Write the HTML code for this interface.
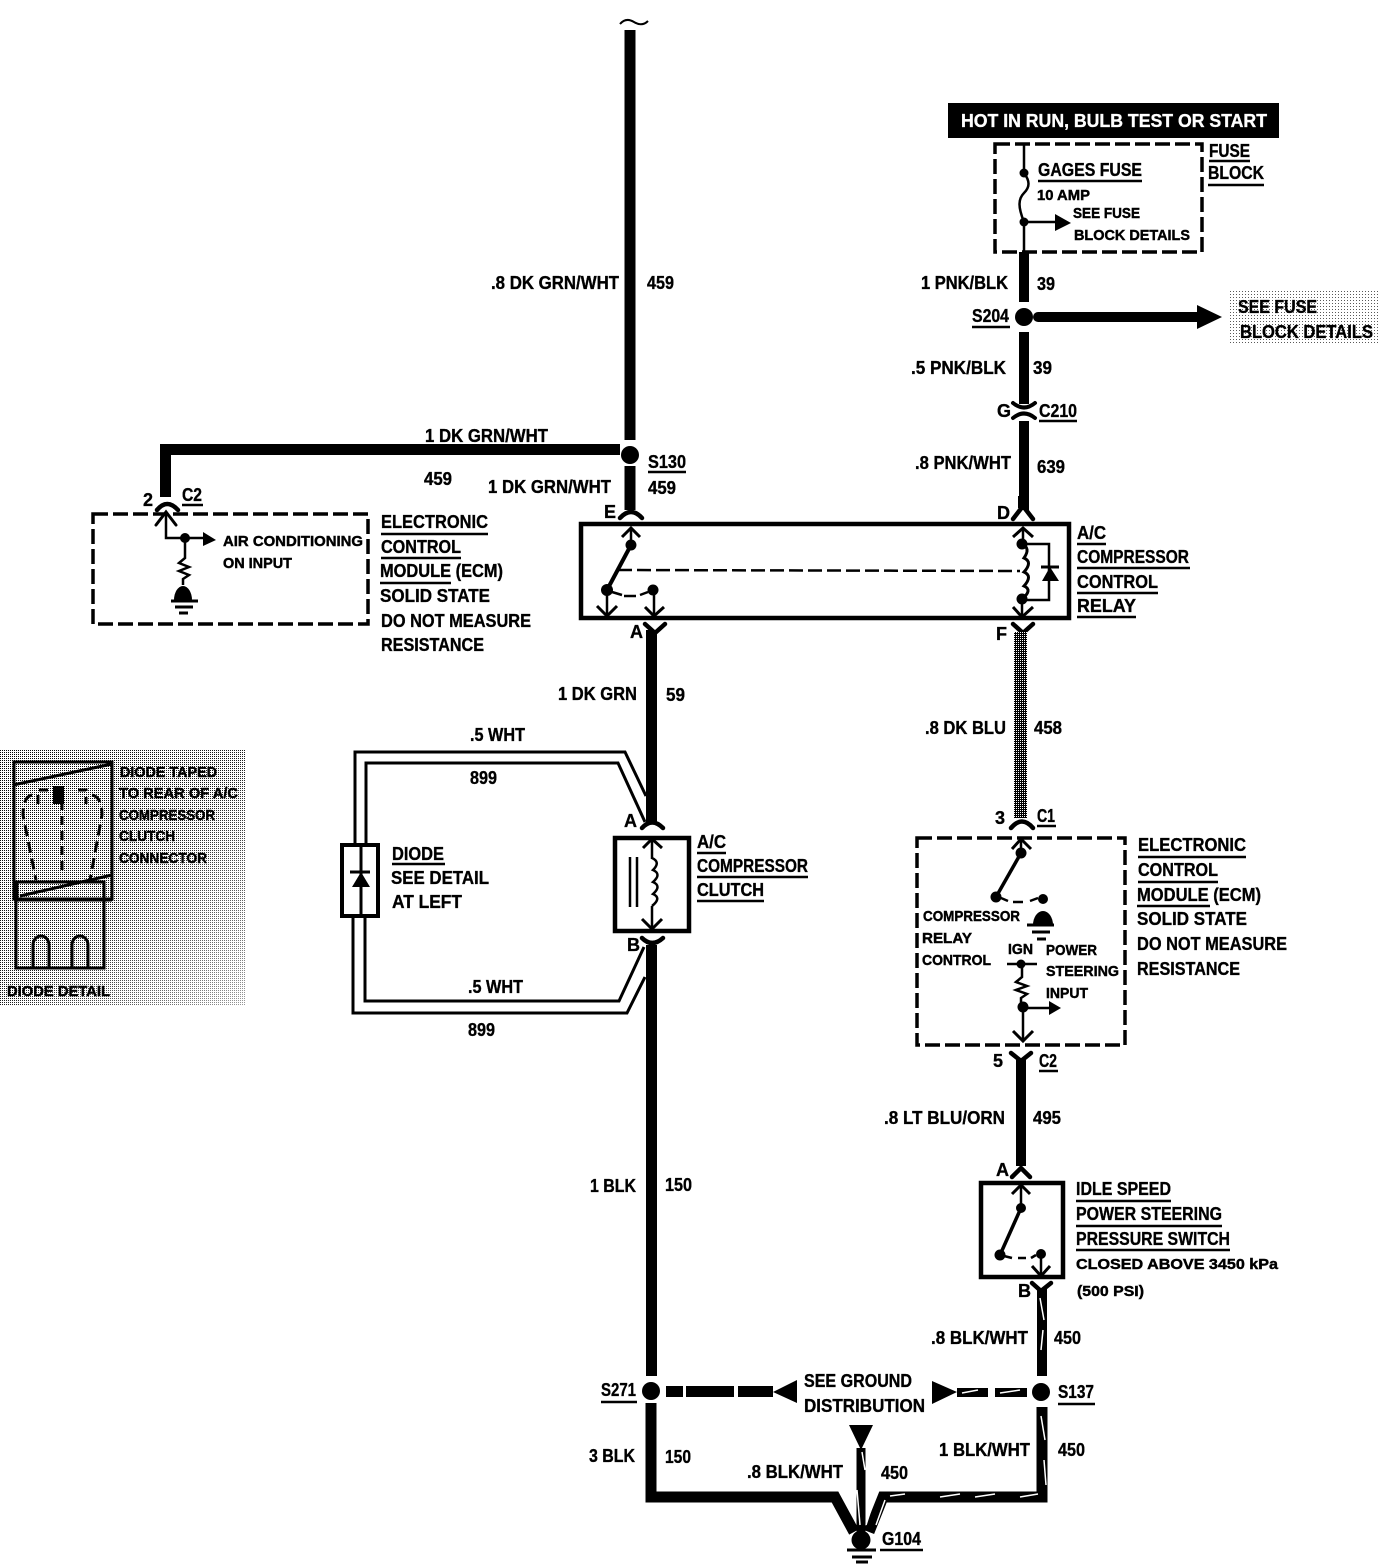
<!DOCTYPE html>
<html><head><meta charset="utf-8"><title>A/C compressor wiring diagram</title>
<style>
html,body{margin:0;padding:0;background:#fff}
svg{display:block}
text{font-family:"Liberation Sans",sans-serif;font-weight:bold;font-size:18px;fill:#000;stroke:#000;stroke-width:.35px}
text.s{font-size:15px;stroke-width:.45px}
.w{fill:none;stroke:#000;stroke-width:11}
.l{fill:none;stroke:#000;stroke-width:2.5}
.c{fill:none;stroke:#000;stroke-width:4.5;stroke-linecap:round}
.d{fill:none;stroke:#000;stroke-width:3.5;stroke-dasharray:15 5}
.b{fill:none;stroke:#000;stroke-width:4.5}
.u{fill:none;stroke:#000;stroke-width:2.5}
.st{fill:none;stroke:#fff;stroke-width:1.5}
</style></head><body>
<svg width="1378" height="1568" viewBox="0 0 1378 1568" xmlns="http://www.w3.org/2000/svg">
<defs>
<pattern id="dith" width="2" height="2" patternUnits="userSpaceOnUse"><rect width="2" height="2" fill="#fff"/><rect width="1" height="1" fill="#000"/></pattern>
<pattern id="wire" width="2" height="2" patternUnits="userSpaceOnUse"><rect width="2" height="2" fill="#000"/><rect width="1" height="1" fill="#fff"/></pattern>
<pattern id="lite" width="3" height="3" patternUnits="userSpaceOnUse"><rect width="3" height="3" fill="#fff"/><rect width="1" height="1" fill="#000"/></pattern>
<linearGradient id="fade" x1="0" y1="0" x2="1" y2="1"><stop offset="0" stop-color="#fff" stop-opacity="0"/><stop offset="0.5" stop-color="#fff" stop-opacity="0.1"/><stop offset="1" stop-color="#fff" stop-opacity="0.6"/></linearGradient>
</defs>

<!-- dither panels -->
<rect x="0" y="750" width="245" height="255" fill="url(#dith)"/>
<rect x="0" y="750" width="245" height="255" fill="url(#fade)"/>
<rect x="1230" y="290" width="148" height="55" fill="url(#lite)"/>
<rect x="1230" y="290" width="148" height="55" fill="#fff" opacity=".35"/>

<!-- top-left main wire -->
<path d="M630 30V440" class="w"/>
<path d="M620 24q6-7 14-2t14-1" class="l" style="stroke-width:2"/>
<circle cx="630" cy="455" r="9"/>
<path d="M630 466V510" class="w"/>
<path d="M620 449.500H165.500V497" class="w"/>

<!-- ECM left -->
<path d="M157 510q10-12 21 0" class="c"/>
<rect x="93" y="514" width="275" height="110" class="d"/>
<path d="M166 512V538H185" class="l"/><path d="M156 525L166 512L176 525" class="c" style="stroke-width:3"/>
<circle cx="185" cy="538" r="5"/><path d="M185 538H205" class="l"/><path d="M203 532L216 540L203 546Z"/>
<path d="M185 540V558l-6 5 10 4-10 4 10 4-6 4V585" class="l"/>
<path d="M174 600a9 14 0 0 1 18 0Z"/>
<path d="M171 601H198M175 607H193M179 613H188" class="l" style="stroke-width:3"/>

<!-- relay -->
<rect x="581" y="524" width="488" height="94" class="b"/>
<path d="M620 518q11-12 22 0" class="c"/>
<path d="M1023 506L1013 519M1023 506L1033 519" class="c"/>
<path d="M1023 496V508" class="w" style="stroke-width:10"/>
<path d="M631 529V545" class="l"/><path d="M622 537L631 528L640 537" class="l" style="stroke-width:3"/>
<circle cx="631" cy="545" r="5.500"/>
<path d="M631 545L607 590" class="l" style="stroke-width:4"/>
<circle cx="607" cy="590" r="6"/>
<path d="M607 590V616" class="l"/><path d="M597 606L607 616L617 606" class="l" style="stroke-width:3"/>
<path d="M612 592L622 595M624 596H636M640 595L648 592" class="l"/>
<circle cx="653" cy="590" r="5.500"/>
<path d="M654 590V616" class="l"/><path d="M645 607L654 616L664 607" class="l" style="stroke-width:3"/>
<path d="M618 570L1020 571" class="l" style="stroke-dasharray:14 5"/>
<path d="M1023 529V544" class="l"/><path d="M1013 537L1023 528L1033 537" class="l" style="stroke-width:3"/>
<circle cx="1022" cy="544" r="5.500"/><circle cx="1022" cy="599" r="5.500"/>
<path d="M1022 544q9 4 2 14q9 4 0 14q9 4 0 14q9 4 -2 13" class="l" style="stroke-width:3"/>
<path d="M1022 599V616" class="l"/><path d="M1013 607L1022 617L1033 607" class="l" style="stroke-width:3"/>
<path d="M1022 544H1049V600H1022" class="l"/>
<path d="M1041 567H1059" class="l" style="stroke-width:3"/><path d="M1050 567L1059 581H1042Z"/>
<path d="M645 624L655 633L665 624" class="c"/>
<path d="M1013 624L1023 633L1033 624" class="c"/>

<!-- wire 59 + clutch -->
<path d="M651.500 630V824" class="w"/>
<path d="M651.500 945V1376" class="w"/>
<path d="M642 828q10-11 21 0" class="c"/>
<path d="M642 938q10 10 21 0" class="c"/>
<rect x="615" y="838" width="74" height="93" class="b"/>
<path d="M652 840V859" class="l"/><path d="M643 848L652 839L662 848" class="l" style="stroke-width:3"/>
<path d="M652 858q9 4 1 12q9 4 0 12q9 4 0 12q9 4 -1 12" class="l"/>
<path d="M652 906V928" class="l"/><path d="M642 919L652 929L662 919" class="l" style="stroke-width:3"/>
<path d="M630 857V907M637 857V907" class="l"/>

<!-- white-wire loop -->
<path d="M355 844V752H625L646 796" class="l" style="stroke-width:3"/>
<path d="M366 844V763H618L645 822" class="l" style="stroke-width:3"/>
<path d="M353 916V1013H627L645 977" class="l" style="stroke-width:3"/>
<path d="M365 916V1001H619L644 947" class="l" style="stroke-width:3"/>
<rect x="342" y="845" width="36" height="71" class="b" style="stroke-width:4"/>
<path d="M361 845V916" class="l" style="stroke-width:3"/>
<path d="M350 872H370" class="l" style="stroke-width:3"/><path d="M361 872L370 887H352Z"/>

<!-- right top -->
<rect x="948" y="103" width="331" height="35" fill="#000"/>
<rect x="995" y="144" width="207" height="108" class="d"/>
<path d="M1024 144V173M1024 222V254" class="l"/>
<circle cx="1024" cy="173" r="4.500"/><circle cx="1024" cy="222" r="4.500"/>
<path d="M1024 173c6 8 6 14 0 20s-6 14 0 29" class="l"/>
<path d="M1024 222H1057" class="l"/><path d="M1055 214L1071 223L1055 231Z"/>
<path d="M1024 252V302" class="w" style="stroke-width:10"/>
<circle cx="1024" cy="317" r="9"/>
<path d="M1024 332V404" class="w" style="stroke-width:10"/>
<path d="M1013 403q11 9 22 0M1013 418q11-9 22 0" class="c" style="stroke-width:4"/>
<path d="M1024 421V510" class="w" style="stroke-width:10"/>
<path d="M1038 317H1199" class="w" style="stroke-linecap:round;stroke-width:10"/>
<path d="M1197 305L1222 317L1197 329Z"/>

<!-- gray wire -->
<rect x="1014" y="632" width="13" height="186" fill="url(#wire)"/>
<path d="M1011 828q11-13 22 0" class="c"/>

<!-- ECM right -->
<rect x="917" y="838" width="208" height="207" class="d"/>
<path d="M1021 840V853" class="l"/><path d="M1012 849L1021 839L1031 849" class="l" style="stroke-width:3"/>
<circle cx="1021" cy="853" r="5.500"/>
<path d="M1021 853L996 897" class="l" style="stroke-width:3.500"/>
<circle cx="996" cy="897" r="5.500"/>
<path d="M1001 898L1008 901M1013 902H1023M1030 901L1038 898" class="l"/>
<circle cx="1043" cy="899" r="5"/>
<path d="M1033 925a10 14 0 0 1 20 0Z"/>
<path d="M1027 925H1054M1032 932H1050M1037 939H1046" class="l" style="stroke-width:3"/>
<path d="M1007 964H1037" class="l"/><circle cx="1021" cy="964" r="4.500"/>
<path d="M1022 966V977l-6 5 11 4-11 4 11 4-6 4V1007" class="l"/>
<circle cx="1023" cy="1007" r="5.500"/>
<path d="M1023 1008H1050" class="l"/><path d="M1049 1001L1061 1008L1049 1015Z"/>
<path d="M1023 1008V1041" class="l"/><path d="M1013 1031L1023 1041L1033 1031" class="l" style="stroke-width:3"/>
<path d="M1011 1053L1021 1061L1031 1053" class="c"/>
<path d="M1021 1060V1166" class="w" style="stroke-width:10"/>

<!-- switch -->
<path d="M1012 1177L1021 1168L1030 1177" class="c"/>
<rect x="981" y="1183" width="82" height="94" class="b"/>
<path d="M1021 1186V1208" class="l"/><path d="M1012 1194L1021 1185L1030 1194" class="l" style="stroke-width:3"/>
<circle cx="1021" cy="1208" r="5"/>
<path d="M1021 1208L1000 1255" class="l" style="stroke-width:3.500"/>
<circle cx="1000" cy="1255" r="5.500"/>
<path d="M1004 1256L1012 1258M1018 1258H1026M1031 1258L1036 1255" class="l"/>
<circle cx="1041" cy="1254" r="5"/>
<path d="M1041 1254V1276" class="l"/><path d="M1032 1266L1041 1276L1050 1266" class="l" style="stroke-width:3"/>
<path d="M1032 1283L1041 1291L1051 1283" class="c"/>
<path d="M1042 1288V1376" class="w" style="stroke-width:10"/>
<path d="M1040 1298L1044 1320M1043 1330L1041 1350" class="st"/>

<!-- bottom -->
<circle cx="651" cy="1391" r="9"/>
<circle cx="1041" cy="1392" r="9"/>
<path d="M651 1403V1497H835L854 1532" class="w"/>
<path d="M1042 1407V1497H883L869 1532" class="w"/>
<path d="M861 1448V1532" class="w" style="stroke-width:9"/>
<path d="M1041 1416L1045 1440M1044 1460L1046 1485M1038 1494L1020 1497M975 1497L995 1494M940 1497L960 1494M890 1496L905 1494M875 1497L866 1525M885 1500L876 1525M862 1452L865 1470M857 1490L860 1525" class="st"/>
<rect x="666" y="1386" width="17" height="11"/>
<rect x="686" y="1386" width="48" height="11"/>
<rect x="738" y="1386" width="35" height="11"/>
<path d="M773 1392L797 1380V1403Z"/>
<path d="M932 1381L957 1392L932 1404Z"/>
<rect x="957" y="1388" width="31" height="9"/>
<rect x="995" y="1388" width="32" height="9"/>
<path d="M962 1393L978 1390M1000 1393L1020 1390" class="st"/>
<path d="M849 1425H873L861 1450Z"/>
<circle cx="861" cy="1540" r="9.500"/>
<path d="M847 1550H876M852 1557H872M856 1562H868" class="l" style="stroke-width:3"/>

<!-- diode detail -->
<g fill="none" stroke="#000" stroke-width="3">
<rect x="14" y="762" width="98" height="137"/>
<path d="M13 785L112 764M20 896L112 875"/>
<path d="M16 899V968H104V882H17V899"/>
<path d="M14 900H112"/>
<path d="M33 968V945a8 9 0 0 1 16 0V968M72 968V945a8 9 0 0 1 16 0V968"/>
<path d="M38 804V790H48M78 790H86V804M62 786V875" stroke-dasharray="9 6"/>
<path d="M32 795Q23 797 23 815L36 880M92 795Q102 797 102 815L90 880" stroke-dasharray="11 6"/>
</g>
<rect x="53" y="786" width="11" height="18"/>

<!-- underlines -->
<path class="u" d="M648 472H686M182 505H203M381 534H488M381 558H461M380 583H451M697 853H726M697 877H808M697 901H764M392 864H445M1077 544H1106M1077 568H1190M1077 593H1158M1077 617H1136M1037 826H1056M1138 857H1246M1138 882H1218M1137 906H1210M1039 1071H1058M1076 1201H1171M1076 1226H1222M1076 1250H1230M601 1402H637M1058 1404H1095M880 1550H923M972 327H1010M1039 421H1077M1038 181H1142M1209 161H1250M1208 185H1264"/>

<!-- labels -->
<text x="491" y="289" textLength="128" lengthAdjust="spacingAndGlyphs">.8 DK GRN/WHT</text>
<text x="647" y="289" textLength="27" lengthAdjust="spacingAndGlyphs">459</text>
<text x="425" y="442" textLength="123" lengthAdjust="spacingAndGlyphs">1 DK GRN/WHT</text>
<text x="424" y="485" textLength="28" lengthAdjust="spacingAndGlyphs">459</text>
<text x="488" y="493" textLength="123" lengthAdjust="spacingAndGlyphs">1 DK GRN/WHT</text>
<text x="648" y="494" textLength="28" lengthAdjust="spacingAndGlyphs">459</text>
<text x="648" y="468" textLength="38" lengthAdjust="spacingAndGlyphs">S130</text>
<text x="143" y="506">2</text>
<text x="182" y="501" textLength="20" lengthAdjust="spacingAndGlyphs">C2</text>
<text x="381" y="528" textLength="107" lengthAdjust="spacingAndGlyphs">ELECTRONIC</text>
<text x="381" y="553" textLength="80" lengthAdjust="spacingAndGlyphs">CONTROL</text>
<text x="380" y="577" textLength="123" lengthAdjust="spacingAndGlyphs">MODULE (ECM)</text>
<text x="380" y="602" textLength="110" lengthAdjust="spacingAndGlyphs">SOLID STATE</text>
<text x="381" y="627" textLength="150" lengthAdjust="spacingAndGlyphs">DO NOT MEASURE</text>
<text x="381" y="651" textLength="103" lengthAdjust="spacingAndGlyphs">RESISTANCE</text>
<text class="s" x="223" y="546" textLength="140" lengthAdjust="spacingAndGlyphs">AIR CONDITIONING</text>
<text class="s" x="223" y="568" textLength="69" lengthAdjust="spacingAndGlyphs">ON INPUT</text>

<text x="604" y="518">E</text>
<text x="997" y="519">D</text>
<text x="630" y="638">A</text>
<text x="996" y="640">F</text>
<text x="1077" y="539" textLength="29" lengthAdjust="spacingAndGlyphs">A/C</text>
<text x="1077" y="563" textLength="112" lengthAdjust="spacingAndGlyphs">COMPRESSOR</text>
<text x="1077" y="588" textLength="81" lengthAdjust="spacingAndGlyphs">CONTROL</text>
<text x="1077" y="612" textLength="59" lengthAdjust="spacingAndGlyphs">RELAY</text>

<text x="558" y="700" textLength="79" lengthAdjust="spacingAndGlyphs">1 DK GRN</text>
<text x="666" y="701" textLength="19" lengthAdjust="spacingAndGlyphs">59</text>
<text x="470" y="741" textLength="55" lengthAdjust="spacingAndGlyphs">.5 WHT</text>
<text x="470" y="784" textLength="27" lengthAdjust="spacingAndGlyphs">899</text>
<text x="468" y="993" textLength="55" lengthAdjust="spacingAndGlyphs">.5 WHT</text>
<text x="468" y="1036" textLength="27" lengthAdjust="spacingAndGlyphs">899</text>
<text x="624" y="827">A</text>
<text x="627" y="951">B</text>
<text x="697" y="848" textLength="29" lengthAdjust="spacingAndGlyphs">A/C</text>
<text x="697" y="872" textLength="111" lengthAdjust="spacingAndGlyphs">COMPRESSOR</text>
<text x="697" y="896" textLength="67" lengthAdjust="spacingAndGlyphs">CLUTCH</text>
<text x="392" y="860" textLength="52" lengthAdjust="spacingAndGlyphs">DIODE</text>
<text x="391" y="884" textLength="98" lengthAdjust="spacingAndGlyphs">SEE DETAIL</text>
<text x="392" y="908" textLength="70" lengthAdjust="spacingAndGlyphs">AT LEFT</text>

<text class="s" x="120" y="777" textLength="97" lengthAdjust="spacingAndGlyphs">DIODE TAPED</text>
<text class="s" x="119" y="798" textLength="119" lengthAdjust="spacingAndGlyphs">TO REAR OF A/C</text>
<text class="s" x="119" y="820" textLength="96" lengthAdjust="spacingAndGlyphs">COMPRESSOR</text>
<text class="s" x="119" y="841" textLength="56" lengthAdjust="spacingAndGlyphs">CLUTCH</text>
<text class="s" x="119" y="863" textLength="88" lengthAdjust="spacingAndGlyphs">CONNECTOR</text>
<text class="s" x="7" y="996" textLength="103" lengthAdjust="spacingAndGlyphs">DIODE DETAIL</text>

<text x="961" y="127" textLength="306" lengthAdjust="spacingAndGlyphs" style="fill:#fff;stroke:#fff">HOT IN RUN, BULB TEST OR START</text>
<text x="1038" y="176" textLength="104" lengthAdjust="spacingAndGlyphs">GAGES FUSE</text>
<text class="s" x="1037" y="200" textLength="53" lengthAdjust="spacingAndGlyphs">10 AMP</text>
<text class="s" x="1073" y="218" textLength="67" lengthAdjust="spacingAndGlyphs">SEE FUSE</text>
<text class="s" x="1074" y="240" textLength="116" lengthAdjust="spacingAndGlyphs">BLOCK DETAILS</text>
<text x="1209" y="157" textLength="41" lengthAdjust="spacingAndGlyphs">FUSE</text>
<text x="1208" y="179" textLength="56" lengthAdjust="spacingAndGlyphs">BLOCK</text>
<text x="1238" y="313" textLength="79" lengthAdjust="spacingAndGlyphs">SEE FUSE</text>
<text x="1240" y="338" textLength="133" lengthAdjust="spacingAndGlyphs">BLOCK DETAILS</text>
<text x="921" y="289" textLength="87" lengthAdjust="spacingAndGlyphs">1 PNK/BLK</text>
<text x="1037" y="290" textLength="18" lengthAdjust="spacingAndGlyphs">39</text>
<text x="972" y="322" textLength="37" lengthAdjust="spacingAndGlyphs">S204</text>
<text x="911" y="374" textLength="95" lengthAdjust="spacingAndGlyphs">.5 PNK/BLK</text>
<text x="1033" y="374" textLength="19" lengthAdjust="spacingAndGlyphs">39</text>
<text x="997" y="417">G</text>
<text x="1039" y="417" textLength="38" lengthAdjust="spacingAndGlyphs">C210</text>
<text x="915" y="469" textLength="96" lengthAdjust="spacingAndGlyphs">.8 PNK/WHT</text>
<text x="1037" y="473" textLength="28" lengthAdjust="spacingAndGlyphs">639</text>

<text x="925" y="734" textLength="81" lengthAdjust="spacingAndGlyphs">.8 DK BLU</text>
<text x="1034" y="734" textLength="28" lengthAdjust="spacingAndGlyphs">458</text>
<text x="995" y="824">3</text>
<text x="1037" y="822" textLength="18" lengthAdjust="spacingAndGlyphs">C1</text>
<text x="1138" y="851" textLength="108" lengthAdjust="spacingAndGlyphs">ELECTRONIC</text>
<text x="1138" y="876" textLength="80" lengthAdjust="spacingAndGlyphs">CONTROL</text>
<text x="1137" y="901" textLength="124" lengthAdjust="spacingAndGlyphs">MODULE (ECM)</text>
<text x="1137" y="925" textLength="110" lengthAdjust="spacingAndGlyphs">SOLID STATE</text>
<text x="1137" y="950" textLength="150" lengthAdjust="spacingAndGlyphs">DO NOT MEASURE</text>
<text x="1137" y="975" textLength="103" lengthAdjust="spacingAndGlyphs">RESISTANCE</text>
<text class="s" x="923" y="921" textLength="97" lengthAdjust="spacingAndGlyphs">COMPRESSOR</text>
<text class="s" x="922" y="943" textLength="50" lengthAdjust="spacingAndGlyphs">RELAY</text>
<text class="s" x="922" y="965" textLength="69" lengthAdjust="spacingAndGlyphs">CONTROL</text>
<text class="s" x="1008" y="954" textLength="25" lengthAdjust="spacingAndGlyphs">IGN</text>
<text class="s" x="1046" y="955" textLength="51" lengthAdjust="spacingAndGlyphs">POWER</text>
<text class="s" x="1046" y="976" textLength="73" lengthAdjust="spacingAndGlyphs">STEERING</text>
<text class="s" x="1046" y="998" textLength="42" lengthAdjust="spacingAndGlyphs">INPUT</text>
<text x="993" y="1067">5</text>
<text x="1039" y="1067" textLength="18" lengthAdjust="spacingAndGlyphs">C2</text>
<text x="884" y="1124" textLength="121" lengthAdjust="spacingAndGlyphs">.8 LT BLU/ORN</text>
<text x="1033" y="1124" textLength="28" lengthAdjust="spacingAndGlyphs">495</text>
<text x="996" y="1176">A</text>
<text x="1018" y="1297">B</text>
<text x="1076" y="1195" textLength="95" lengthAdjust="spacingAndGlyphs">IDLE SPEED</text>
<text x="1076" y="1220" textLength="146" lengthAdjust="spacingAndGlyphs">POWER STEERING</text>
<text x="1076" y="1245" textLength="154" lengthAdjust="spacingAndGlyphs">PRESSURE SWITCH</text>
<text class="s" x="1076" y="1269" textLength="202" lengthAdjust="spacingAndGlyphs">CLOSED ABOVE 3450 kPa</text>
<text class="s" x="1077" y="1296" textLength="67" lengthAdjust="spacingAndGlyphs">(500 PSI)</text>
<text x="931" y="1344" textLength="97" lengthAdjust="spacingAndGlyphs">.8 BLK/WHT</text>
<text x="1054" y="1344" textLength="27" lengthAdjust="spacingAndGlyphs">450</text>

<text x="590" y="1192" textLength="46" lengthAdjust="spacingAndGlyphs">1 BLK</text>
<text x="665" y="1191" textLength="27" lengthAdjust="spacingAndGlyphs">150</text>
<text x="601" y="1396" textLength="35" lengthAdjust="spacingAndGlyphs">S271</text>
<text x="1058" y="1398" textLength="36" lengthAdjust="spacingAndGlyphs">S137</text>
<text x="804" y="1387" textLength="108" lengthAdjust="spacingAndGlyphs">SEE GROUND</text>
<text x="804" y="1412" textLength="121" lengthAdjust="spacingAndGlyphs">DISTRIBUTION</text>
<text x="589" y="1462" textLength="46" lengthAdjust="spacingAndGlyphs">3 BLK</text>
<text x="665" y="1463" textLength="26" lengthAdjust="spacingAndGlyphs">150</text>
<text x="747" y="1478" textLength="96" lengthAdjust="spacingAndGlyphs">.8 BLK/WHT</text>
<text x="881" y="1479" textLength="27" lengthAdjust="spacingAndGlyphs">450</text>
<text x="939" y="1456" textLength="91" lengthAdjust="spacingAndGlyphs">1 BLK/WHT</text>
<text x="1058" y="1456" textLength="27" lengthAdjust="spacingAndGlyphs">450</text>
<text x="882" y="1545" textLength="39" lengthAdjust="spacingAndGlyphs">G104</text>
</svg>
</body></html>
